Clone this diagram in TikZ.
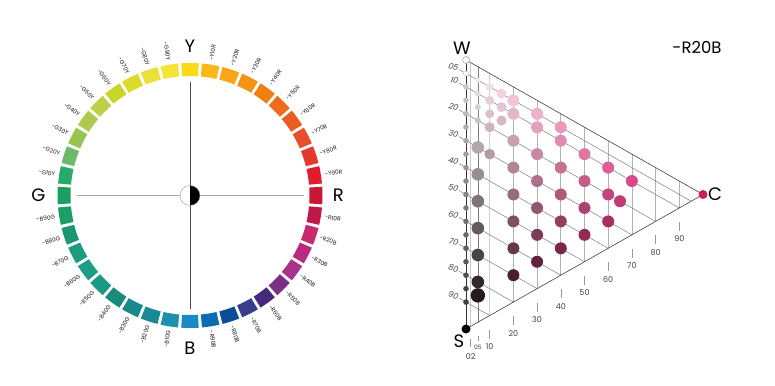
\documentclass[tikz,border=0pt]{standalone}
\usepackage{fontspec}
\setmainfont{Poppins}
\usetikzlibrary{calc}

\definecolor{chroma}{RGB}{242,30,118}
\definecolor{fullhue}{HTML}{C8205F}

\begin{document}
\begin{tikzpicture}[x=1pt,y=1pt]
\tikzset{
  huelabel/.style={font=\fontsize{5.8}{6}\selectfont, text=black!90, inner sep=0pt},
  pole/.style={font=\fontsize{18}{18}\selectfont, inner sep=0pt},
  scalelabel/.style={font=\fontsize{8}{8}\selectfont, text=black!75, inner sep=0pt},
  sline/.style={draw=black!55, line width=0.45pt},
  rim/.style={draw=black!75, line width=0.6pt},
  tick/.style={draw=black!40, line width=0.5pt}
}
\useasboundingbox (0,0) rectangle (775,385);

\coordinate (O) at (190,189.5);

\foreach \i/\hex in {0/FCD918,1/FBB618,2/F8A615,3/F59313,4/F07E11,5/ED6C1A,6/EA5C22,7/E84E2C,8/E4382B,9/E11A2E,
  10/CB1537,11/C0174A,12/C82A6D,13/BC2A7F,14/A8338A,15/7A3086,16/46287C,17/3A3D8E,18/0D4C97,19/0B6CB4,
  20/1A8AC6,21/1E8FAE,22/1B8896,23/198A8C,24/1A8A7A,25/1A9A84,26/1E9E88,27/1D9B7E,28/1B9872,29/1D9D67,
  30/1A9F5E,31/27AB6A,32/6CBB6C,33/98C452,34/AFC94D,35/BDD048,36/C8D52A,37/DCDB2C,38/E9E03A,39/F2E534} {
  \definecolor{segcol}{HTML}{\hex}
  \pgfmathsetmacro{\a}{90-9*\i}
  \fill[segcol] ($(O)+(\a-3.8:119.5)$) arc[start angle=\a-3.8, end angle=\a+3.8, radius=119.5]
    -- ($(O)+(\a+3.8:132.5)$) arc[start angle=\a+3.8, end angle=\a-3.8, radius=132.5] -- cycle;
}

\foreach \i/\lab in {1/Y10R,2/Y20R,3/Y30R,4/Y40R,5/Y50R,6/Y60R,7/Y70R,8/Y80R,9/Y90R,
  11/R10B,12/R20B,13/R30B,14/R40B,15/R50B,16/R60B,17/R70B,18/R80B,19/R90B} {
  \pgfmathsetmacro{\a}{90-9*\i}
  \node[huelabel, anchor=west, rotate=\a] (hue\i) at ($(O)+(\a:136.5)$) {-\lab};
}
\foreach \i/\lab in {21/B10G,22/B20G,23/B30G,24/B40G,25/B50G,26/B60G,27/B70G,28/B80G,29/B90G,
  31/G10Y,32/G20Y,33/G30Y,34/G40Y,35/G50Y,36/G60Y,37/G70Y,38/G80Y,39/G90Y} {
  \pgfmathsetmacro{\a}{90-9*\i}
  \pgfmathsetmacro{\b}{\a+180}
  \node[huelabel, anchor=east, rotate=\b] (hue\i) at ($(O)+(\a:136.5)$) {-\lab};
}

\node[pole] (ypole) at (190,338.3) {Y};
\node[pole] (rpole) at (338.3,189.5) {R};
\node[pole] (bpole) at (190,36.7) {B};
\node[pole] (gpole) at (38.3,189.5) {G};

\coordinate (xl) at ($(O)+(180:113.5)$);
\coordinate (xr) at ($(O)+(0:113.5)$);
\coordinate (xt) at ($(O)+(90:113.5)$);
\coordinate (xb) at ($(O)+(270:113.5)$);
\draw[black!35, line width=0.7pt] (xl) -- (xr);
\draw[black!70, line width=0.7pt] (xt) -- (xb);
\fill[white] (O) circle[radius=10];
\fill[black] ($(O)+(90:10)$) arc[start angle=90, end angle=-90, radius=10] -- cycle;
\draw[black!40, line width=0.4pt] (O) circle[radius=10];

\coordinate (W) at (466,325);
\coordinate (S) at (466,56);
\coordinate (C) at (703,190.5);

\foreach \c/\shade/\wd in {2/22/0.9,5/50/0.5,10/18/1.3,20/30/0.8,30/30/0.8,40/30/0.8,50/30/0.8,60/30/0.8,70/30/0.8,80/30/0.8,90/30/0.8} {
  \pgfmathsetmacro{\w}{(100-\c)/100}
  \pgfmathsetmacro{\cc}{\c/100}
  \draw[draw=black!\shade, line width=\wd pt] (barycentric cs:W=\w,C=\cc) -- (barycentric cs:S=\w,C=\cc);
}

\foreach \s/\lab in {5/05,10/10,20/20,30/30,40/40,50/50,60/60,70/70,80/80,90/90} {
  \pgfmathsetmacro{\w}{(100-\s)/100}
  \pgfmathsetmacro{\ss}{\s/100}
  \coordinate (sl\s) at ($(barycentric cs:W=\w,S=\ss)+(-7,4)$);
  \draw[sline] (sl\s) -- (barycentric cs:S=\ss,C=\w);
  \node[scalelabel, anchor=east, rotate=-15, font=\fontsize{8}{8}\selectfont\itshape] (sv\s) at ($(sl\s)+(-0.5,1.5)$) {\lab};
}

\foreach \c in {10,20,30,40,50,60,70,80,90} {
  \pgfmathsetmacro{\w}{(100-\c)/100}
  \pgfmathsetmacro{\cc}{\c/100}
  \coordinate (e\c) at (barycentric cs:S=\w,C=\cc);
  \draw[tick] ($(e\c)+(0,-14)$) -- ++(0,-9);
  \node[scalelabel] (cv\c) at ($(e\c)+(0,-31)$) {\c};
}
\coordinate (e2) at (barycentric cs:S=0.98,C=0.02);
\coordinate (e5) at (barycentric cs:S=0.95,C=0.05);
\draw[tick] ($(e2)+(0,-13)$) -- ++(0,-8);
\draw[tick] ($(e5)+(0,-14)$) -- ++(0,-5);
\node[scalelabel] (cv2) at ($(e2)+(0,-30)$) {02};
\node[scalelabel, font=\fontsize{6}{6}\selectfont] (cv5) at ($(e5)+(0,-25)$) {05};

\draw[rim] (W) -- (C) -- (S);
\draw[draw=black!80, line width=0.8pt] (S) -- (W);

\filldraw[fill=white, draw=black!30, line width=0.3pt] (barycentric cs:W=0.95,S=0.05) circle[radius=2.5];
\foreach \s in {10,15,...,90} {
  \pgfmathsetmacro{\w}{(100-\s)/100}
  \pgfmathsetmacro{\ss}{\s/100}
  \pgfmathsetmacro{\k}{0.68*\s+14}
  \fill[black!\k] (barycentric cs:W=\w,S=\ss) circle[radius=2.8];
}

\foreach \s/\c/\r in {5/5/2.5,10/5/3,15/5/3,20/5/3,30/5/6.3,40/5/6.3,50/5/6.3,60/5/6.3,70/5/6.3,80/5/6.3,85/5/7.2,
  5/10/4,10/10/4.5,15/10/4.5,20/10/5,30/10/5.3,
  5/15/5,10/15/5,15/15/5,
  5/20/6,10/20/6,20/20/6,30/20/6,40/20/6,50/20/6,60/20/6,70/20/6,
  5/30/6,10/30/6,20/30/6,30/30/6,40/30/6,50/30/6,60/30/6,
  5/40/6,10/40/6,20/40/6,30/40/6,40/40/6,50/40/6,
  10/50/6,20/50/6,30/50/6,40/50/6,
  10/60/6,20/60/6,30/60/6,
  20/65/6,10/70/6} {
  \pgfmathsetmacro{\w}{(100-\s-\c)/100}
  \pgfmathsetmacro{\ss}{\s/100}
  \pgfmathsetmacro{\cc}{\c/100}
  \pgfmathsetmacro{\p}{100*\c/(100-\s)}
  \pgfmathsetmacro{\q}{100-\s}
  \colorlet{tint}{chroma!\p!white}
  \colorlet{dotcol}{tint!\q!black}
  \fill[dotcol] (barycentric cs:W=\w,S=\ss,C=\cc) circle[radius=\r];
}

\filldraw[fill=white, draw=black!45, line width=0.4pt] (W) circle[radius=3.5];
\fill[black] (S) circle[radius=4.5];
\fill[fullhue] (C) circle[radius=4.5];

\node[pole] (wlab) at (462,337) {W};
\node[pole] (slab) at (459,43.3) {S};
\node[pole, anchor=west] (clab) at (708,190.5) {C};
\node[pole, font=\fontsize{16.5}{16.5}\selectfont] (hname) at (697,338) {-R20B};
\end{tikzpicture}
\end{document}
